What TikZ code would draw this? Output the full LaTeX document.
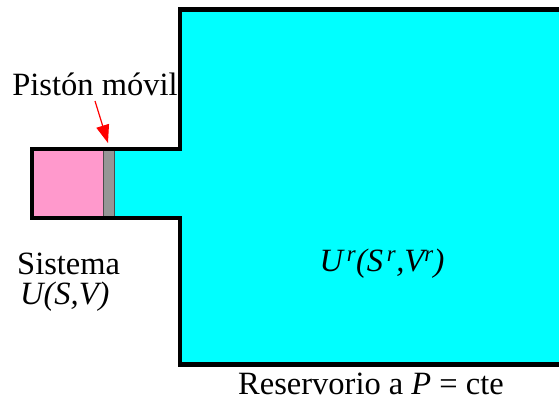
\documentclass[tikz,border=0pt]{standalone}
\usepackage{fontspec}
\setmainfont{Liberation Serif}
\usetikzlibrary{arrows.meta}
\definecolor{res}{RGB}{0,255,255}
\definecolor{sys}{RGB}{255,153,204}
\definecolor{pis}{RGB}{150,150,150}
\tikzset{
  wall/.style={line width=4.5pt, line cap=butt, line join=miter},
  lbl/.style={font=\fontsize{32.5}{36}\selectfont, inner sep=0pt},
}
\begin{document}
\begin{tikzpicture}[x=1pt,y=-1pt]
\useasboundingbox (0,0) rectangle (559,400);
% reservoir
\fill[res] (180,9.5) rectangle (565,364.5);
\fill[res] (114,149) rectangle (182,218);
\fill[sys] (32,149) rectangle (103,218);
\node[draw=black!70, fill=pis, line width=0.8pt, minimum width=11pt, minimum height=68pt, inner sep=0pt, anchor=center] (piston) at (108.5,183.5) {};
% walls
\draw[wall] (565,9.5) -- (180,9.5) -- (180,149) -- (32,149) -- (32,218) -- (180,218) -- (180,364.5) -- (565,364.5);
% labels
\node[lbl, anchor=base] (pl) at (95,95) {Pistón móvil};
\coordinate (tail) at (95,101);
\coordinate (tip) at (108,143);
\draw[red, line width=1.2pt, -{Triangle[length=18pt,width=13pt]}] (tail) -- (tip);
\node[lbl, anchor=base west] (sis) at (17,274) {Sistema};
\node[lbl, anchor=base west] (usv) at (20,304) {\itshape U(S,V)};
\node[lbl, anchor=base] (ur) at (382,271) {\itshape U\textsuperscript{\,r}(S\textsuperscript{\,r},V\textsuperscript{r})};
\node[lbl, anchor=base] (resv) at (371,394) {Reservorio a \textit{P} = cte};
\end{tikzpicture}
\end{document}
